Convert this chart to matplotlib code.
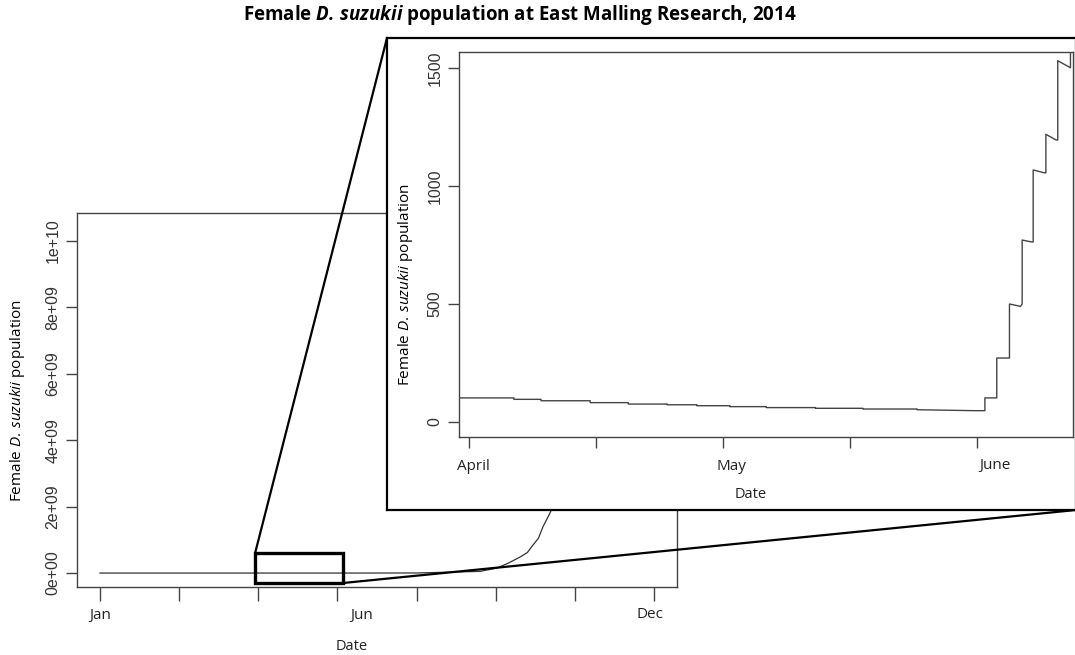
import matplotlib
matplotlib.use("Agg")
import matplotlib.pyplot as plt
import matplotlib.transforms as mtransforms
from matplotlib.patches import Rectangle, ConnectionPatch

# main series: day of year vs female population (flat, then exponential)
main_day = [0, 50, 100, 150, 160, 200, 240, 250.8, 258, 265.3, 270, 273.5,
            277, 279.8, 284.3, 295, 310, 325, 340, 350]
main_pop = [100, 90, 80, 50, 1500, 2e6, 5e7, 0.15e9, 0.3e9, 0.48e9, 0.62e9, 0.84e9,
            1.05e9, 1.39e9, 1.81e9, 3.0e9, 5.2e9, 7.4e9, 9.4e9, 10.4e9]

# inset series: early April to early June (vertical jumps are repeated days)
inset_day = [88.8, 95.3, 95.3, 98.5, 98.5, 104.3, 104.3, 108.8, 108.8, 113.4, 113.4,
             116.9, 116.9, 120.8, 120.8, 125.1, 125.1, 130.9, 130.9, 136.5, 136.5,
             142.9, 142.9, 149.6, 150.9, 150.9, 152.1, 152.3, 152.3, 153.6, 153.8,
             153.8, 155.1, 155.3, 155.3, 156.4, 156.6, 156.6, 157.9, 158.1, 158.1,
             159.3, 159.5, 159.5, 161.0, 161.0]
inset_pop = [102, 102, 96, 96, 90, 90, 82, 82, 76, 76, 73,
             73, 69, 69, 65, 65, 61, 61, 58, 58, 55,
             55, 52, 48, 48, 102, 102, 102, 271, 271, 271,
             500, 490, 500, 771, 763, 763, 1068, 1056, 1056, 1219,
             1195, 1195, 1531, 1501, 1600]

main_tick_days = [0, 50, 100, 150, 200, 250, 300, 350]
main_label_days = [0, 165.5, 347.5]
main_labels = ["Jan", "Jun", "Dec"]
main_yticks = [0, 2e9, 4e9, 6e9, 8e9, 1e10]
main_ylabels = ["0e+00", "2e+09", "4e+09", "6e+09", "8e+09", "1e+10"]

inset_tick_days = [90, 105, 120, 135, 150]
inset_label_days = [90.5, 121.0, 152.1]
inset_labels = ["April", "May", "June"]
inset_yticks = [0, 500, 1000, 1500]

zoom_box = (98, 153.5, -0.3e9, 0.6e9)  # x0, x1, y0, y1 in main data coords

W, H = 1075, 655
R_FONT = "Liberation Sans"
LABEL_FONT = "Open Sans"
SPINE = "#444444"

plt.rcParams["mathtext.fontset"] = "custom"
plt.rcParams["mathtext.rm"] = "Open Sans"
plt.rcParams["mathtext.it"] = "Open Sans:italic"
plt.rcParams["mathtext.bf"] = "Open Sans:bold"
plt.rcParams["mathtext.bfit"] = "Open Sans:italic:bold"

YLABEL = "Female $\\mathit{D.\\,suzukii}$ population"
TITLE = ("Female $\\mathbfit{D.\\,suzukii}$ population "
         "at East Malling Research, 2014")


def fig_rect(left, top, right, bottom):
    return [left / W, 1 - bottom / H, (right - left) / W, (bottom - top) / H]


def style_r(ax, xtick_len):
    for s in ax.spines.values():
        s.set_color(SPINE)
        s.set_linewidth(1.0)
    ax.tick_params(direction="out", width=1.0, color=SPINE)
    ax.tick_params(axis="x", length=xtick_len)
    ax.tick_params(axis="y", length=8, labelsize=11.5, labelcolor="#333333",
                   labelrotation=90, pad=4)
    for lab in ax.get_yticklabels():
        lab.set_fontfamily(R_FONT)
        lab.set_va("center")


def month_labels(ax, days, labels, y_px):
    # y offset in pixels below the axes bottom
    tr = mtransforms.blended_transform_factory(ax.transData, ax.transAxes)
    off = mtransforms.offset_copy(tr, fig=ax.figure, y=-y_px, units="dots")
    for d, s in zip(days, labels):
        ax.text(d, 0, s, transform=off, ha="center", va="center",
                fontsize=11, family=LABEL_FONT, color="#222222")


fig = plt.figure(figsize=(W / 100, H / 100), dpi=100)

# main panel
ax = fig.add_axes(fig_rect(77, 213, 677, 587))
ax.plot(main_day, main_pop, color="#333333", lw=0.9)
ax.set_xlim(-14.5, 364.5)
ax.set_ylim(-0.42e9, 10.84e9)
ax.set_xticks(main_tick_days)
ax.set_xticklabels([])
ax.set_yticks(main_yticks)
ax.set_yticklabels(main_ylabels)
style_r(ax, 10)
month_labels(ax, main_label_days, main_labels, 28)
ax.set_ylabel(YLABEL, fontsize=11, family=LABEL_FONT)
ax.yaxis.set_label_coords(-0.083, 0.497)
tr = mtransforms.offset_copy(ax.transAxes, fig=fig, y=-59, units="dots")
ax.text(0.458, 0, "Date", transform=tr, ha="center", va="center",
        fontsize=10.5, family=LABEL_FONT, color="#222222")

x0, x1, y0, y1 = zoom_box
ax.add_patch(Rectangle((x0, y0), x1 - x0, y1 - y0, fill=False, ec="black",
                       lw=2.4, zorder=5, clip_on=False))

# inset frame
frame = fig.add_axes(fig_rect(387, 38, 1076, 510))
frame.set_xticks([])
frame.set_yticks([])
for s in frame.spines.values():
    s.set_color("black")
    s.set_linewidth(1.6)
frame.set_facecolor("white")

# inset plot
ins = fig.add_axes(fig_rect(459, 52, 1073, 437))
ins.plot(inset_day, inset_pop, color="#444444", lw=1.0)
ins.set_xlim(88.82, 161.3)
ins.set_ylim(-63.6, 1567.8)
ins.set_xticks(inset_tick_days)
ins.set_xticklabels([])
ins.set_yticks(inset_yticks)
ins.set_yticklabels([str(v) for v in inset_yticks])
style_r(ins, 8)
month_labels(ins, inset_label_days, inset_labels, 29)
ins.set_ylabel(YLABEL, fontsize=11, family=LABEL_FONT)
ins.yaxis.set_label_coords(-0.071, 0.395)
tr = mtransforms.offset_copy(ins.transAxes, fig=fig, y=-57, units="dots")
ins.text(0.475, 0, "Date", transform=tr, ha="center", va="center",
         fontsize=10.5, family=LABEL_FONT, color="#222222")

# connector lines from zoom box to inset frame corners
for (xa, ya), (xb, yb) in [((x0, y1), (0, 1)), ((x1, y0), (1, 0))]:
    con = ConnectionPatch(xyA=(xa, ya), coordsA=ax.transData,
                          xyB=(xb, yb), coordsB=frame.transAxes,
                          color="black", lw=1.6)
    fig.add_artist(con)

fig.text(520 / W, 1 - 15 / H, TITLE,
         ha="center", va="center", fontsize=13.5, fontweight="bold", family=LABEL_FONT)

fig.savefig("out.png", dpi=100)
